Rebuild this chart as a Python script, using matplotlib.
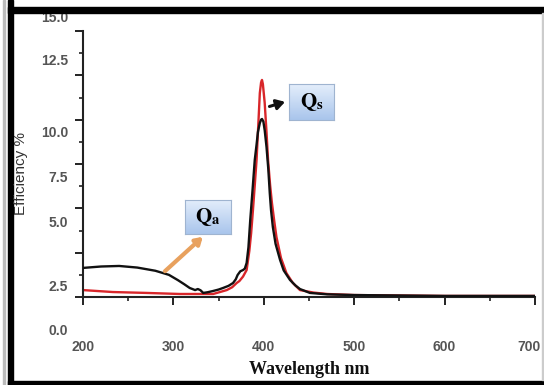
import numpy as np
import matplotlib
matplotlib.use("Agg")
import matplotlib.pyplot as plt
from matplotlib.patches import Rectangle
from matplotlib.ticker import MultipleLocator, NullFormatter
from matplotlib.transforms import blended_transform_factory

plt.rcParams['mathtext.fontset'] = 'stix'

# black curve
black_x = [200, 220, 240, 260, 280, 295, 305, 312, 318, 324, 327, 330, 333, 338, 344, 350, 355, 361,
           366, 369, 371, 374, 377, 379, 381, 383, 385, 387.5, 390, 392, 393.5, 395.6, 397, 398, 399.5,
           401, 403, 405, 406.6, 408, 410, 413, 418, 422, 429, 435, 440, 451, 470, 500, 600, 700]
black_y = [1.64, 1.72, 1.75, 1.66, 1.48, 1.25, 0.95, 0.72, 0.51, 0.39, 0.45, 0.38, 0.23, 0.27, 0.34, 0.42, 0.51, 0.63,
           0.79, 1.00, 1.24, 1.45, 1.52, 1.60, 1.92, 2.80, 4.34, 6.00, 7.73, 8.60, 9.30, 9.81, 10.00, 10.04, 9.90,
           9.40, 8.46, 7.20, 5.86, 4.90, 3.95, 3.00, 2.09, 1.50, 0.96, 0.65, 0.45, 0.23, 0.15, 0.11, 0.06, 0.06]

# red curve
red_x = [200, 233, 270, 307, 344, 359, 365, 370, 373, 377, 381, 384, 386, 388, 390, 392, 394, 395.6,
         397, 398, 399, 401, 403, 404.7, 407, 409, 411.5, 414, 419, 425, 432, 440, 455, 470, 500, 600, 700]
red_y = [0.39, 0.28, 0.23, 0.17, 0.17, 0.39, 0.55, 0.79, 0.90, 1.15, 1.52, 2.60, 3.60, 4.90, 6.30, 7.73, 9.80, 11.50,
         12.10, 12.24, 12.00, 10.94, 9.30, 7.73, 6.30, 5.30, 4.30, 3.38, 2.20, 1.35, 0.80, 0.39, 0.25, 0.17, 0.11, 0.06, 0.06]

x_ticks = [200, 300, 400, 500, 600, 700]
y_labels = ["15.0", "12.5", "10.0", "7.5", "5.0", "2.5", "0.0"]
# the pasted y labels do not line up with the ticks; their heights in data units
y_label_pos = [15.75, 13.3, 9.25, 6.71, 4.17, 0.56, -1.92]

W, H = 544, 385
fig = plt.figure(figsize=(W / 100, H / 100), dpi=100)
fig.patch.set_facecolor('white')


def fx(p):
    return p / W


def fy(p):
    return 1 - p / H


ax = fig.add_axes([fx(83), fy(297), fx(535) - fx(83), fy(31) - fy(297)])
ax.set_facecolor('none')

ax.plot(black_x, black_y, color='#111111', lw=1.7, zorder=3)
ax.plot(red_x, red_y, color='#d8262a', lw=1.7, zorder=2)

ax.set_xlim(200, 700)
ax.set_ylim(0, 15)
for s in ['top', 'right']:
    ax.spines[s].set_visible(False)
for s in ['left', 'bottom']:
    ax.spines[s].set_linewidth(1.5)
    ax.spines[s].set_color('#222222')

ax.yaxis.set_major_locator(MultipleLocator(2.5))
ax.yaxis.set_minor_locator(MultipleLocator(1.25))
ax.xaxis.set_major_locator(MultipleLocator(100))
ax.xaxis.set_minor_locator(MultipleLocator(50))
ax.yaxis.set_major_formatter(NullFormatter())
ax.xaxis.set_major_formatter(NullFormatter())
ax.tick_params(which='major', direction='out', length=6, width=1.4, color='#222222')
ax.tick_params(which='minor', direction='out', length=3, width=1.2, color='#222222')

lab_font = dict(family='Liberation Sans', weight='bold', size=10, color='#555555')
ytrans = blended_transform_factory(fig.transFigure, ax.transData)
for lab, pos in zip(y_labels, y_label_pos):
    ax.text(fx(68), pos, lab, transform=ytrans, ha='right', va='center', clip_on=False, **lab_font)

xtrans = blended_transform_factory(ax.transData, fig.transFigure)
for v in x_ticks:
    ha = 'center' if v < 700 else 'right'
    ax.text(v if v < 700 else 706, fy(347), str(v), transform=xtrans,
            ha=ha, va='center', clip_on=False, **lab_font)

fig.text(fx(21.5), fy(174), "Efficiency %", rotation=90, ha='center', va='center',
         family='Liberation Sans', size=11, color='#333333')
fig.text(fx(309), fy(369), "Wavelength nm", ha='center', va='center',
         family='Liberation Serif', weight='bold', size=13, color='#111111')

# gradient label boxes
grad = np.linspace(0, 1, 50).reshape(-1, 1)
cmap = matplotlib.colors.LinearSegmentedColormap.from_list('box', ['#e4eefb', '#a9c5ec'])


def label_box(x0, x1, y0, y1, txt):
    # pixel box -> small axes on the figure
    bax = fig.add_axes([fx(x0), fy(y1), fx(x1) - fx(x0), fy(y0) - fy(y1)])
    bax.imshow(grad, aspect='auto', cmap=cmap, extent=[0, 1, 0, 1], origin='upper')
    bax.set_xticks([])
    bax.set_yticks([])
    for s in bax.spines.values():
        s.set_color('#9fb4d0')
        s.set_linewidth(0.8)
    bax.text(0.5, 0.5, txt, ha='center', va='center', fontsize=15, color='black',
             transform=bax.transAxes)


label_box(289, 334, 84, 120, r'$\mathbf{Q}_{\mathbf{s}}$')
label_box(185, 231, 200, 234, r'$\mathbf{Q}_{\mathbf{a}}$')

ax.annotate('', xy=(426.5, 11.05), xytext=(403.3, 10.7),
            arrowprops=dict(arrowstyle='-|>,head_length=0.5,head_width=0.3', color='#111111', lw=2.2),
            zorder=5)
ax.annotate('', xy=(334.8, 3.5), xytext=(288.4, 1.35),
            arrowprops=dict(arrowstyle='-|>,head_length=0.4,head_width=0.25', color='#e8a15e', lw=3),
            zorder=5)

# picture frame
fig.add_artist(Rectangle((fx(8), fy(385)), fx(5), 1, transform=fig.transFigure, color='black'))
fig.add_artist(Rectangle((fx(3), fy(385)), fx(2), 1, transform=fig.transFigure, color='#bbbbbb'))
fig.add_artist(Rectangle((fx(8), fy(13)), 1, 6 / H, transform=fig.transFigure, color='black'))
fig.add_artist(Rectangle((fx(8), fy(385)), 1, 4 / H, transform=fig.transFigure, color='black'))
fig.add_artist(Rectangle((fx(542), fy(380)), fx(1.5), (380 - 13) / H, transform=fig.transFigure, color='#cccccc'))

fig.savefig("out.png", dpi=100)
